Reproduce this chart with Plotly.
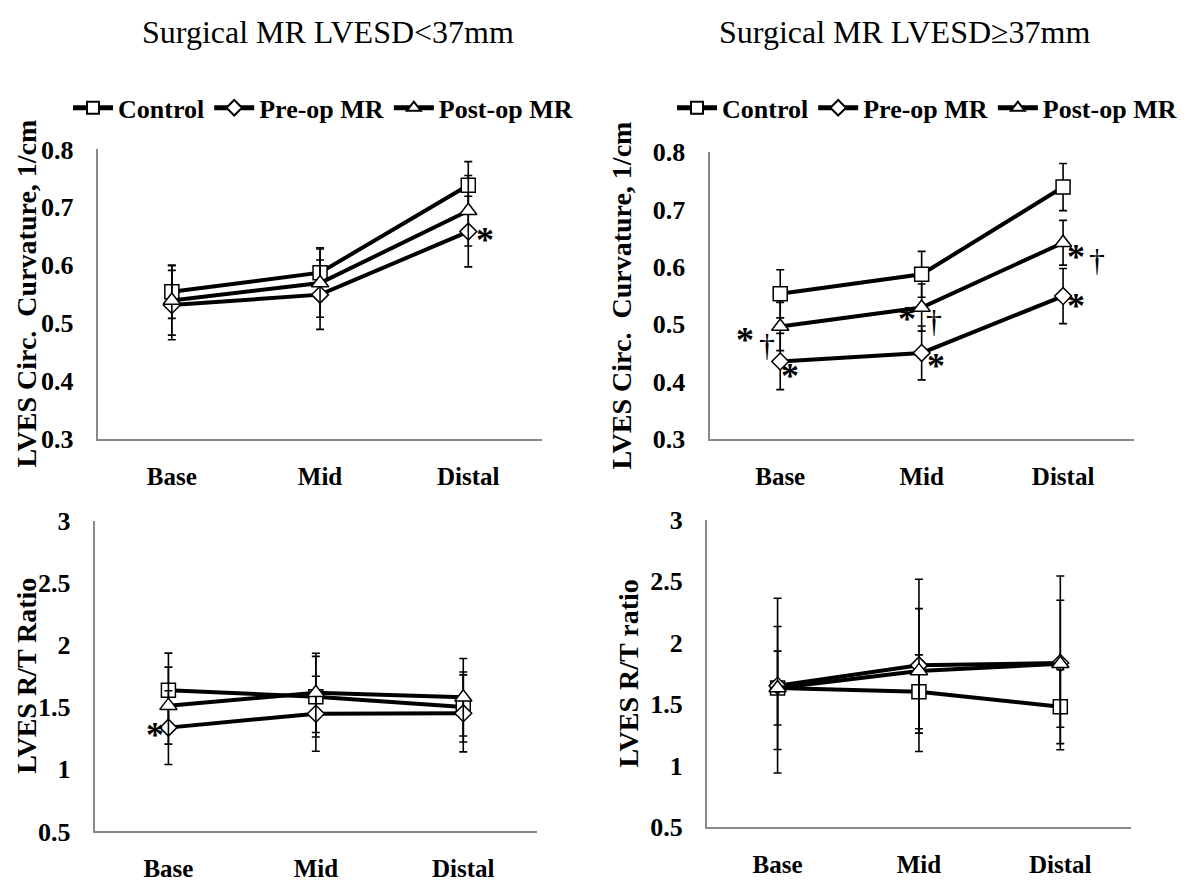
import plotly.graph_objects as go

# ---------------- data ----------------
segments = ["Base", "Mid", "Distal"]
series_names = ["Control", "Pre-op MR", "Post-op MR"]

# Surgical MR LVESD<37mm : LVES circumferential curvature (1/cm)
small_curv_control = [0.554, 0.587, 0.738]
small_curv_control_err = [0.046, 0.043, 0.041]
small_curv_preop = [0.531, 0.549, 0.658]
small_curv_preop_err = [0.060, 0.060, 0.061]
small_curv_postop = [0.539, 0.569, 0.694]
small_curv_postop_err = [0.060, 0.059, 0.061]

# Surgical MR LVESD>=37mm : LVES circumferential curvature (1/cm)
large_curv_control = [0.553, 0.587, 0.739]
large_curv_control_err = [0.042, 0.040, 0.041]
large_curv_preop = [0.435, 0.450, 0.549]
large_curv_preop_err = [0.049, 0.047, 0.048]
large_curv_postop = [0.496, 0.529, 0.642]
large_curv_postop_err = [0.042, 0.041, 0.039]

# Surgical MR LVESD<37mm : LVES R/T ratio
small_rt_control = [1.636, 1.585, 1.502]
small_rt_control_err = [0.300, 0.325, 0.282]
small_rt_preop = [1.336, 1.448, 1.451]
small_rt_preop_err = [0.297, 0.302, 0.310]
small_rt_postop = [1.513, 1.616, 1.581]
small_rt_postop_err = [0.310, 0.319, 0.312]

# Surgical MR LVESD>=37mm : LVES R/T ratio
large_rt_control = [1.632, 1.601, 1.480]
large_rt_control_err = [0.300, 0.300, 0.300]
large_rt_preop = [1.651, 1.816, 1.836]
large_rt_preop_err = [0.710, 0.700, 0.706]
large_rt_postop = [1.632, 1.771, 1.829]
large_rt_postop_err = [0.500, 0.506, 0.516]

curv_ticks = [0.3, 0.4, 0.5, 0.6, 0.7, 0.8]
rt_ticks = [0.5, 1, 1.5, 2, 2.5, 3]
rt_ticktext = ["0.5", "1", "1.5", "2", "2.5", "3"]

panel_titles = ["Surgical MR LVESD&lt;37mm", "Surgical MR LVESD\u226537mm"]
curv_title = "LVES Circ.\u00a0 Curvature, 1/cm"
rt_titles = ["LVES R/T Ratio", "LVES R/T ratio"]

# significance marks: (panel, series index, segment index, text, xshift, yshift)
sig_marks = [
    (1, 1, 2, "*", 17, -8),
    (2, 1, 0, "*", 10, -14),
    (2, 2, 0, "*", -35, -13),
    (2, 2, 0, "\u2020", -13, -18),
    (2, 2, 1, "*", -15, -11),
    (2, 2, 1, "\u2020", 12, -13),
    (2, 1, 1, "*", 14, -13),
    (2, 2, 2, "*", 13, -14),
    (2, 2, 2, "\u2020", 34, -17),
    (2, 1, 2, "*", 13, -10),
    (3, 1, 0, "*", -13, -7),
]

# ---------------- figure ----------------
FONT = "Liberation Serif"
W, H = 1188, 890
symbols = ["square", "diamond", "triangle-up"]
msizes = [14, 13, 15]

panels = [
    ([small_curv_control, small_curv_preop, small_curv_postop],
     [small_curv_control_err, small_curv_preop_err, small_curv_postop_err]),
    ([large_curv_control, large_curv_preop, large_curv_postop],
     [large_curv_control_err, large_curv_preop_err, large_curv_postop_err]),
    ([small_rt_control, small_rt_preop, small_rt_postop],
     [small_rt_control_err, small_rt_preop_err, small_rt_postop_err]),
    ([large_rt_control, large_rt_preop, large_rt_postop],
     [large_rt_control_err, large_rt_preop_err, large_rt_postop_err]),
]

fig = go.Figure()
for p, (vals, errs) in enumerate(panels, start=1):
    ax = "" if p == 1 else str(p)
    for i, name in enumerate(series_names):
        fig.add_trace(go.Scatter(
            x=segments, y=vals[i], name=name,
            xaxis="x" + ax, yaxis="y" + ax,
            mode="lines+markers",
            line=dict(color="black", width=4),
            marker=dict(symbol=symbols[i], size=msizes[i], color="white",
                        line=dict(color="black", width=1.5)),
            error_y=dict(type="data", array=errs[i], visible=True,
                         color="black", thickness=1.6, width=4),
            showlegend=p in (1, 2),
            legend="legend" if p == 1 else "legend2",
        ))

# pixel geometry of the four plot areas (left, right, top, bottom)
boxes = {
    1: (97.7, 542.4, 140.0, 439.0),
    2: (709.5, 1133.8, 142.7, 439.3),
    3: (94.7, 537.0, 524.0, 845.0),
    4: (706.9, 1131.0, 522.7, 840.7),
}

axis_common = dict(showline=True, linecolor="#898989", linewidth=2,
                   showgrid=False, zeroline=False, ticks="",
                   tickfont=dict(family=FONT, size=25, color="black", weight="bold"))

layout_axes = {}
for p, (l, r, t, b) in boxes.items():
    ax = "" if p == 1 else str(p)
    layout_axes["xaxis" + ax] = dict(
        axis_common, domain=[l / W, r / W], anchor="y" + ax,
        type="category", range=[-0.5, 2.5], ticklabelstandoff=14)
    yd = dict(axis_common, domain=[1 - b / H, 1 - t / H], anchor="x" + ax,
              ticklabelstandoff=17)
    yd["tickfont"] = dict(family=FONT, size=26, color="black", weight="bold")
    if p in (1, 2):
        yd.update(range=[0.3, 0.8], tickvals=curv_ticks, tickformat=".1f")
    else:
        yd.update(range=[0.5, 3], tickvals=rt_ticks, ticktext=rt_ticktext)
    layout_axes["yaxis" + ax] = yd

annotations = []
# panel titles
for cx, txt in zip([327.7, 904.0], panel_titles):
    annotations.append(dict(text=txt, xref="paper", yref="paper",
                            x=cx / W, y=1 - 19 / H, xanchor="center", yanchor="middle",
                            showarrow=False,
                            font=dict(family=FONT, size=32, color="black")))
# y-axis titles
ytitle_x = {1: 26.5, 2: 622.0, 3: 26.5, 4: 628.0}
ytitles = {1: curv_title, 2: curv_title, 3: rt_titles[0], 4: rt_titles[1]}
for p in boxes:
    ax = "" if p == 1 else str(p)
    annotations.append(dict(text=ytitles[p], xref="paper", yref="y" + ax + " domain",
                            x=ytitle_x[p] / W, y=0.5, xanchor="center", yanchor="middle",
                            textangle=-90, showarrow=False,
                            font=dict(family=FONT, size=28, color="black", weight="bold")))
# significance marks
for p, si, gi, txt, dx, dy in sig_marks:
    ax = "" if p == 1 else str(p)
    is_star = txt == "*"
    annotations.append(dict(text=txt, xref="x" + ax, yref="y" + ax,
                            x=segments[gi], y=panels[p - 1][0][si][gi],
                            xshift=dx, yshift=dy, xanchor="center", yanchor="middle",
                            showarrow=False,
                            font=dict(family=FONT, size=36 if is_star else 32, color="black",
                                      weight="bold" if is_star else "normal")))

legend_style = dict(orientation="h", xanchor="left", yanchor="middle",
                    font=dict(family=FONT, size=26, color="black", weight="bold"),
                    bgcolor="rgba(0,0,0,0)", borderwidth=0, itemwidth=40,
                    itemsizing="constant",
                    itemclick=False, itemdoubleclick=False)

fig.update_layout(
    width=W, height=H,
    margin=dict(l=0, r=0, t=0, b=0),
    paper_bgcolor="white", plot_bgcolor="white",
    font=dict(family=FONT, color="black"),
    legend=dict(legend_style, x=68 / W, y=1 - 97 / H),
    legend2=dict(legend_style, x=672 / W, y=1 - 97 / H),
    annotations=annotations,
    **layout_axes,
)

fig.write_html("out.html", config={"displayModeBar": False},
               post_script="document.body.style.margin='0';")
